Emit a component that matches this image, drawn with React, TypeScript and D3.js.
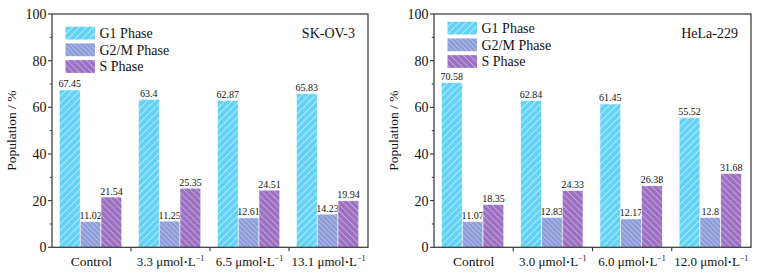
import React from "react";
import * as d3 from "d3";

const seriesNames = ["G1 Phase", "G2/M Phase", "S Phase"];
const leftCategories = ["Control", "3.3", "6.5", "13.1"];
const leftG1 = [67.45, 63.4, 62.87, 65.83];
const leftG2M = [11.02, 11.25, 12.61, 14.23];
const leftS = [21.54, 25.35, 24.51, 19.94];
const rightCategories = ["Control", "3.0", "6.0", "12.0"];
const rightG1 = [70.58, 62.84, 61.45, 55.52];
const rightG2M = [11.07, 12.83, 12.17, 12.8];
const rightS = [18.35, 24.33, 26.38, 31.68];
const yTicks = [0, 20, 40, 60, 80, 100];
const yMinorTicks = [10, 30, 50, 70, 90];

const colors = ["#62d2f6", "#8d9dda", "#9c70c3"];
const FONT = "Liberation Serif, DejaVu Serif, serif";

function Panel({ x0, x1, cats, series, title, legendY, labelX }: any) {
  const yTop = 14, yBot = 247.3;
  const y = d3.scaleLinear().domain([0, 100]).range([yBot, yTop]);
  const x = d3.scaleBand<string>().domain(cats).range([x0, x1]).padding(0);
  const bw = x.bandwidth();
  const inner = d3.scaleBand<number>().domain([0, 1, 2]).range([7.4, 7.4 + 62.4]).padding(0);
  const boundaries = cats.slice(1).map((c: string) => x(c) as number);
  const ts = { fontFamily: FONT };
  return (
    <g style={ts}>
      {series.map((vals: number[], si: number) =>
        vals.map((v, ci) => {
          const bx = (x(cats[ci]) as number) + (inner(si) as number);
          const w = inner.bandwidth();
          return (
            <g key={`${si}-${ci}`}>
              <rect x={bx} y={y(v)} width={w} height={yBot - y(v)} fill={`url(#hatch${si})`} stroke="#ffffff" strokeWidth={0.6} />
              <text x={bx + w / 2} y={y(v) - 2.5} fontSize={10} textAnchor="middle" style={ts} fill="#111">{String(v)}</text>
            </g>
          );
        })
      )}
      <rect x={x0} y={yTop} width={x1 - x0} height={yBot - yTop} fill="none" stroke="#333" strokeWidth={1.2} />
      {yTicks.map((t) => (
        <g key={t}>
          <line x1={x0 - 4} x2={x0} y1={y(t)} y2={y(t)} stroke="#333" strokeWidth={1.1} />
          <text x={x0 - 5.5} y={y(t)} dy="0.35em" fontSize={14} textAnchor="end" style={ts} fill="#111">{t}</text>
        </g>
      ))}
      {yMinorTicks.map((t) => (
        <line key={t} x1={x0 - 2.2} x2={x0} y1={y(t)} y2={y(t)} stroke="#333" strokeWidth={1} />
      ))}
      {boundaries.map((b: number, i: number) => (
        <line key={i} x1={b} x2={b} y1={yBot} y2={yBot + 4} stroke="#333" strokeWidth={1.1} />
      ))}
      {cats.map((c: string) => {
        const cx = (x(c) as number) + bw / 2;
        return c === "Control" ? (
          <text key={c} x={cx} y={266} fontSize={13.5} textAnchor="middle" style={ts} fill="#111">Control</text>
        ) : (
          <text key={c} x={cx} y={266} fontSize={13} textAnchor="middle" style={ts} fill="#111">
            {c} μmol<tspan fontWeight="bold">·</tspan>L<tspan fontSize={8} dy={-5}>−1</tspan>
          </text>
        );
      })}
      <text transform={`translate(${labelX},${(yTop + yBot) / 2}) rotate(-90)`} fontSize={13.5} textAnchor="middle" style={ts} fill="#111">Population / %</text>
      {seriesNames.map((n, i) => (
        <g key={n}>
          <rect x={x0 + 13.5} y={legendY + i * 16.7} width={29.5} height={12.8} fill={`url(#hatch${i})`} />
          <text x={x0 + 47.5} y={legendY + i * 16.7 + 6.4} dy="0.35em" fontSize={14} style={ts} fill="#111">{n}</text>
        </g>
      ))}
      <text x={x1 - 13} y={33} dy="0.35em" fontSize={14} textAnchor="end" style={ts} fill="#111">{title}</text>
    </g>
  );
}

export default function App() {
  return (
    <svg width={773} height={278} style={{ position: "absolute", left: 0, top: 0, background: "#fff" }}>
      <defs>
        <pattern id="hatch0" patternUnits="userSpaceOnUse" width={5} height={5} patternTransform="rotate(45)">
          <rect width={5} height={5} fill={colors[0]} />
          <line x1={0} y1={0} x2={0} y2={5} stroke="#ffffff" strokeWidth={1.4} strokeOpacity={0.75} />
        </pattern>
        <pattern id="hatch1" patternUnits="userSpaceOnUse" width={3.5} height={3.5} patternTransform="rotate(-45)">
          <rect width={3.5} height={3.5} fill={colors[1]} />
          <line x1={0} y1={0} x2={0} y2={3.5} stroke="#ffffff" strokeWidth={1} strokeOpacity={0.6} />
        </pattern>
        <pattern id="hatch2" patternUnits="userSpaceOnUse" width={4.5} height={4.5} patternTransform="rotate(-45)">
          <rect width={4.5} height={4.5} fill={colors[2]} />
          <line x1={0} y1={0} x2={0} y2={4.5} stroke="#ffffff" strokeWidth={1.2} strokeOpacity={0.6} />
        </pattern>
      </defs>
      <rect width={773} height={278} fill="#fff" />
      <Panel x0={52} x1={368} cats={leftCategories} series={[leftG1, leftG2M, leftS]} title="SK-OV-3" legendY={26.7} labelX={16} />
      <Panel x0={434} x1={751} cats={rightCategories} series={[rightG1, rightG2M, rightS]} title="HeLa-229" legendY={21.7} labelX={398} />
    </svg>
  );
}
